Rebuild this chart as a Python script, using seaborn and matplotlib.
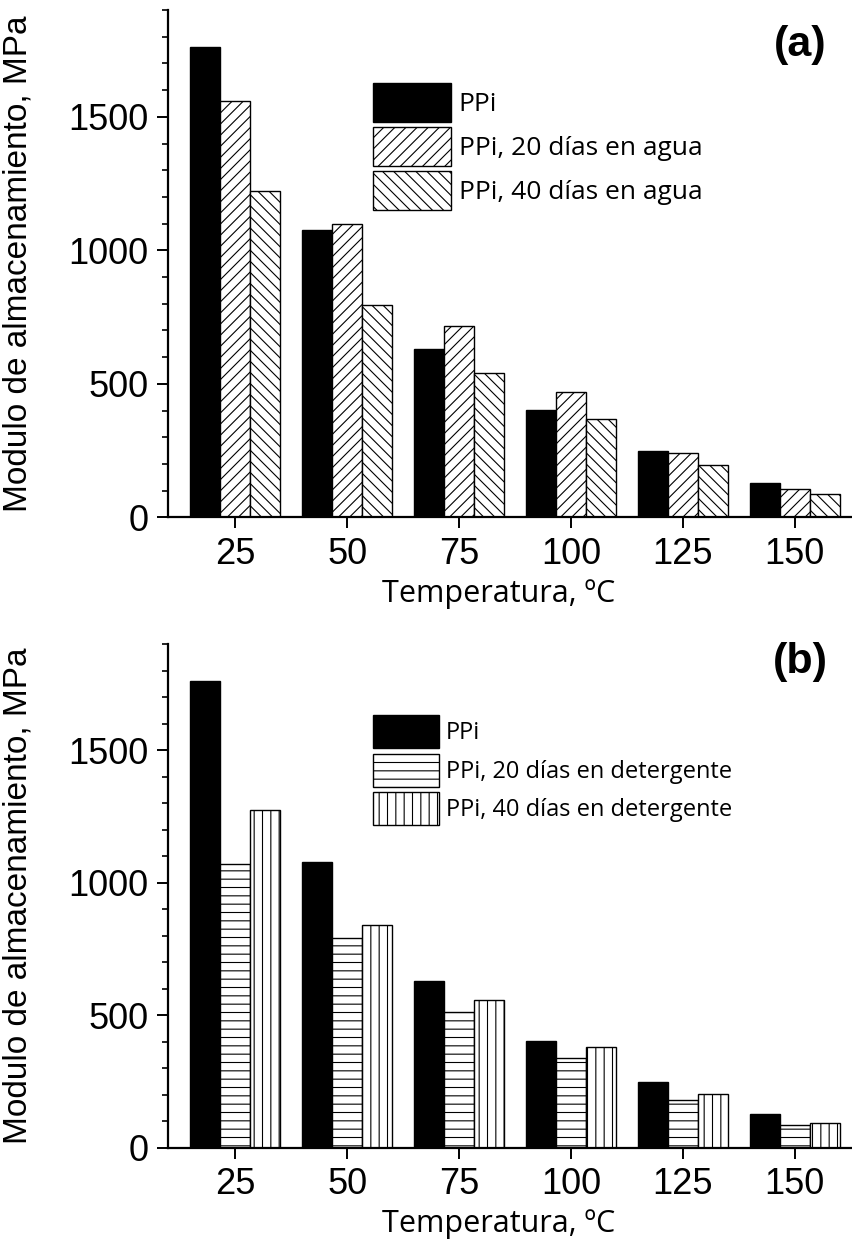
import numpy as np
import pandas as pd
import matplotlib
matplotlib.use("Agg")
import matplotlib.pyplot as plt
import seaborn as sns
from matplotlib.ticker import MultipleLocator
from matplotlib.font_manager import FontProperties

# ---- data ----
temps = ["25", "50", "75", "100", "125", "150"]
ppi = [1760, 1077, 629, 402, 247, 127]
agua20 = [1561, 1100, 718, 471, 242, 107]
agua40 = [1223, 797, 540, 369, 195, 89]
det20 = [1069, 792, 510, 340, 181, 85]
det40 = [1275, 841, 559, 379, 204, 93]
labels_a = ["PPi", "PPi, 20 días en agua", "PPi, 40 días en agua"]
labels_b = ["PPi", "PPi, 20 días en detergente", "PPi, 40 días en detergente"]
xlabel = "Temperatura, ºC"
ylabel = "Modulo de almacenamiento, MPa"

sns.set_style("ticks")
plt.rcParams["font.family"] = ["Liberation Sans", "DejaVu Sans"]
plt.rcParams["hatch.linewidth"] = 0.8
plt.rcParams["hatch.color"] = "black"
for k in ["text.color", "axes.labelcolor", "xtick.color", "ytick.color", "axes.edgecolor"]:
    plt.rcParams[k] = "black"

fig = plt.figure(figsize=(8.53, 12.56), dpi=100)
W, H = 853, 1256


def make_ax(left, top, right, bottom):
    return fig.add_axes([left / W, 1 - bottom / H, (right - left) / W, (bottom - top) / H])


ax_a = make_ax(168, 10, 853, 517.3)
ax_b = make_ax(168, 644, 853, 1147.7)

sans_open = "Open Sans"


def panel(ax, series, labels, hatches, tag, tag_y, leg_top, leg_fs, hl, hh, ls):
    df = pd.DataFrame({
        "T": temps * len(series),
        "v": sum(series, []),
        "s": np.repeat(labels, len(temps)),
    })
    sns.barplot(data=df, x="T", y="v", hue="s", order=temps, hue_order=labels,
                palette=["black", "white", "white"], edgecolor="black",
                linewidth=1.0, width=0.8, saturation=1, legend=False,
                errorbar=None, ax=ax)
    for cont, h in zip(ax.containers, hatches):
        for p in cont:
            p.set_hatch(h)
            p.set_edgecolor("black")
    ax.set_xlim(-0.6, 5.52)
    ax.set_ylim(0, 1900)
    ax.yaxis.set_major_locator(MultipleLocator(500))
    ax.yaxis.set_minor_locator(MultipleLocator(100))
    for s in ["top", "right"]:
        ax.spines[s].set_visible(False)
    for s in ["left", "bottom"]:
        ax.spines[s].set_linewidth(1.6)
    ax.tick_params(axis="both", which="major", direction="out", length=8, width=1.4,
                   labelsize=26, pad=6)
    ax.tick_params(axis="y", which="minor", direction="out", length=4.5, width=1.2)
    ax.set_xlabel(xlabel, fontfamily=sans_open, fontsize=22)
    ax.set_ylabel(ylabel, fontsize=24)
    ax.xaxis.set_label_coords(0.482, -0.122)
    ax.yaxis.set_label_coords(-0.197, 0.5)
    ax.legend(ax.containers, labels, loc="upper left",
              bbox_to_anchor=((373 - 168) / 685, leg_top),
              frameon=False, prop=FontProperties(family=sans_open, size=leg_fs),
              handlelength=hl, handleheight=hh, labelspacing=ls,
              handletextpad=0.3, borderpad=0, borderaxespad=0)
    fig.text(800 / W, 1 - tag_y / H, tag, ha="center", va="center",
             fontsize=31, fontweight="bold")


panel(ax_a, [ppi, agua20, agua40], labels_a, [None, "///", "\\\\\\"], "(a)", 45, 0.856,
      19, 2.95, 1.9, 0.19)
panel(ax_b, [ppi, det20, det40], labels_b, [None, "--", "||"], "(b)", 662, 0.859,
      17, 2.8, 1.78, 0.23)

fig.savefig("out.png", dpi=100)
